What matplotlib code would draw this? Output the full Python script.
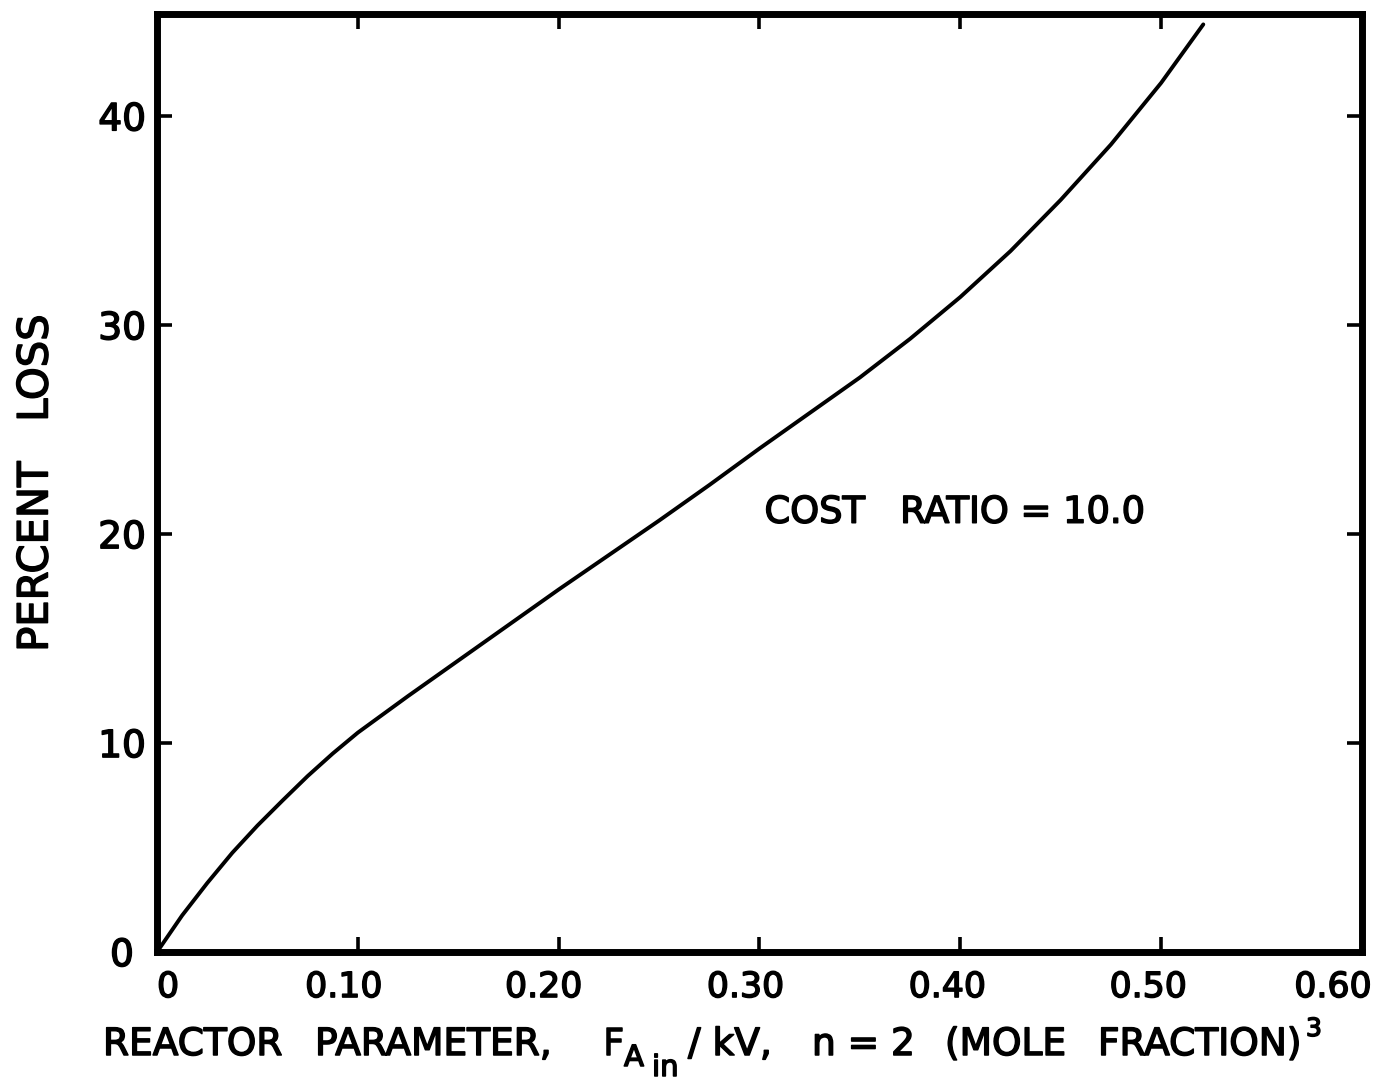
import matplotlib
matplotlib.use("Agg")
import matplotlib.pyplot as plt
import matplotlib.transforms as mtransforms
import matplotlib.patheffects as pe

# Reactor parameter F_Ain/kV (mole fraction)^3 and corresponding percent loss
reactor_param = [0.0, 0.0125, 0.025, 0.0375, 0.05, 0.0625, 0.075, 0.0875,
                 0.10, 0.125, 0.15, 0.175, 0.20, 0.225, 0.25, 0.275, 0.30,
                 0.325, 0.35, 0.375, 0.40, 0.425, 0.45, 0.475, 0.50, 0.521]
percent_loss = [0.0, 1.75, 3.3, 4.75, 6.05, 7.25, 8.42, 9.5,
                10.5, 12.25, 13.95, 15.65, 17.35, 19.0, 20.65, 22.35, 24.1,
                25.8, 27.5, 29.35, 31.35, 33.55, 36.0, 38.65, 41.6, 44.4]

x_ticks = [0.0, 0.10, 0.20, 0.30, 0.40, 0.50, 0.60]
x_tick_labels = ["0", "0.10", "0.20", "0.30", "0.40", "0.50", "0.60"]
y_ticks = [0, 10, 20, 30, 40]
y_tick_labels = ["0", "10", "20", "30", "40"]

annotation = "COST   RATIO = 10.0"

plt.rcParams["font.family"] = ["DejaVu Sans"]

# slightly heavier lettering
ink = [pe.withStroke(linewidth=1.1, foreground="black")]

fig = plt.figure(figsize=(13.81, 10.90), dpi=100)
ax = fig.add_axes([0.1137, 0.1266, 0.8725, 0.8606])

ax.plot(reactor_param, percent_loss, color="black", linewidth=2.8,
        solid_capstyle="round", solid_joinstyle="round")

ax.set_xlim(0, 0.60)
ax.set_ylim(0, 44.9)

ax.set_xticks(x_ticks)
ax.set_xticklabels(x_tick_labels)
ax.set_yticks(y_ticks)
ax.set_yticklabels(y_tick_labels)

for spine in ax.spines.values():
    spine.set_linewidth(5.0)

ax.tick_params(axis="both", which="major", direction="in", length=11,
               width=2.6, top=True, right=True)
ax.tick_params(axis="x", pad=13, labelsize=25)
ax.tick_params(axis="y", pad=8, labelsize=27)

# hand-lettered tick labels sit a little off their ticks
x_shift_px = [11, -14, -15, -14, -13, -13, -29]
for lab, dx in zip(ax.get_xticklabels(), x_shift_px):
    lab.set_transform(lab.get_transform() +
                      mtransforms.ScaledTranslation(dx / 100, 0, fig.dpi_scale_trans))
y_shift_px = [-12, 0, 0, 0, 0]
for lab, dx in zip(ax.get_yticklabels(), y_shift_px):
    lab.set_transform(lab.get_transform() +
                      mtransforms.ScaledTranslation(dx / 100, 0, fig.dpi_scale_trans))
for lab in ax.get_xticklabels() + ax.get_yticklabels():
    lab.set_path_effects(ink)

ax.text(0.3025, 21.05, annotation, fontsize=26.5, ha="left", va="center",
        path_effects=ink)

ax.set_ylabel("PERCENT   LOSS", fontsize=30, labelpad=30, path_effects=ink)

# x-axis title, lettered piece by piece (figure pixel positions)
W, H = 1381.0, 1090.0
base = 1 - 1055 / H
label_kw = dict(fontsize=27, ha="left", va="baseline", path_effects=ink)
fig.text(103 / W, base, "REACTOR", **label_kw)
fig.text(315 / W, base, "PARAMETER,", **label_kw)
fig.text(603 / W, base, "F", **label_kw)
fig.text(624 / W, 1 - 1066 / H, "A", fontsize=21, ha="left", va="baseline",
         path_effects=ink)
fig.text(652 / W, 1 - 1076 / H, "in", fontsize=21, ha="left", va="baseline",
         path_effects=ink)
fig.text(688 / W, base, "/ kV,", **label_kw)
fig.text(812 / W, base, "n = 2", **label_kw)
fig.text(945 / W, base, "(MOLE", **label_kw)
fig.text(1098 / W, base, "FRACTION)", **label_kw)
fig.text(1306 / W, 1 - 1036 / H, "3", fontsize=18, ha="left", va="baseline",
         path_effects=ink)

fig.savefig("out.png", dpi=100)
